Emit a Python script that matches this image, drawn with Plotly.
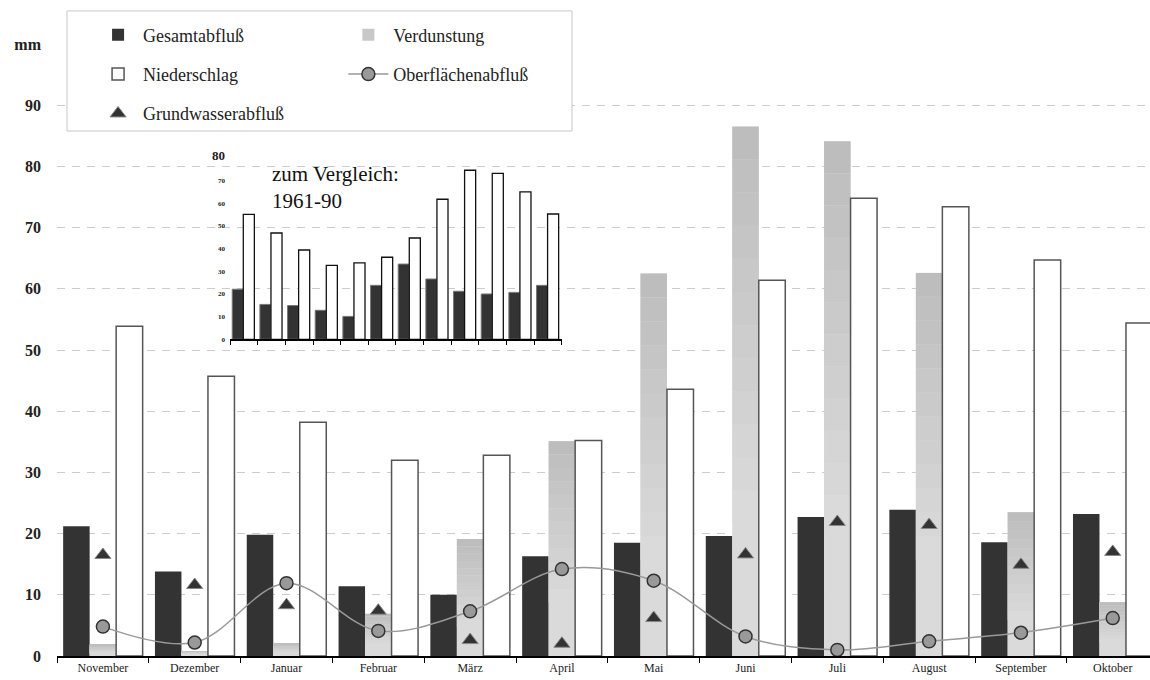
import plotly.graph_objects as go

# ---------------- data ----------------
months = ["November", "Dezember", "Januar", "Februar", "März", "April",
          "Mai", "Juni", "Juli", "August", "September", "Oktober"]
gesamtabfluss = [21.2, 13.8, 19.8, 11.4, 10.0, 16.3, 18.5, 19.6, 22.7, 23.9, 18.6, 23.2]
verdunstung = [1.8, 0.8, 2.0, 6.9, 19.1, 35.1, 62.5, 86.5, 84.1, 62.6, 23.5, 8.8]
niederschlag = [53.9, 45.7, 38.2, 32.0, 32.8, 35.2, 43.6, 61.4, 74.8, 73.4, 64.7, 54.4]
oberflaechenabfluss = [4.8, 2.2, 11.9, 4.1, 7.3, 14.2, 12.3, 3.2, 1.0, 2.4, 3.8, 6.2]
grundwasserabfluss = [16.5, 11.6, 8.3, 7.4, 2.6, 2.0, 6.2, 16.6, 21.9, 21.4, 14.9, 17.0]

# comparison 1961-90 (inset)
ref_gesamtabfluss = [22.1, 15.4, 14.9, 12.8, 10.1, 23.8, 33.2, 26.6, 21.2, 20.0, 20.7, 23.8]
ref_niederschlag = [55.1, 46.9, 39.4, 32.6, 33.7, 36.2, 44.7, 61.8, 74.6, 73.2, 65.1, 55.3]

y_tickvals = [0, 10, 20, 30, 40, 50, 60, 70, 80, 90, 100]
y_ticktext = ["0", "10", "20", "30", "40", "50", "60", "70", "80", "90", "mm"]
inset_tickvals = [0, 10, 20, 30, 40, 50, 60, 70, 80]
inset_ticktext = ["0", "10", "20", "30", "40", "50", "60", "70",
                  "<span style='font-size:13px'><b>80</b></span>"]

SERIF = "Liberation Serif"
fig = go.Figure()

# ---------------- main chart ----------------
fig.add_trace(go.Bar(
    x=months, y=gesamtabfluss, name="Gesamtabfluß", offsetgroup="g",
    marker=dict(color="#333333", line=dict(width=0)),
    legend="legend", legendgroup="g", legendrank=1))

# Verdunstung drawn as a vertical gradient (light base + darker upper segments)
fig.add_trace(go.Bar(
    x=months, y=verdunstung, name="Verdunstung", offsetgroup="v",
    marker=dict(color="#dadada", line=dict(width=0)),
    showlegend=False, legendgroup="v"))
N = 12
c_top, c_bot = 189, 218
for k in range(N):
    f0 = 0.75 * k / N
    f1 = 0.75 * (k + 1) / N
    c = round(c_top + (c_bot - c_top) * k / (N - 1))
    col = f"rgb({c},{c},{c})"
    fig.add_trace(go.Bar(
        x=months, y=[v * (f1 - f0) for v in verdunstung],
        base=[v * (1 - f1) for v in verdunstung],
        name="Verdunstung", offsetgroup="v",
        marker=dict(color=col if k != 4 else "rgb(200,200,200)", line=dict(width=0)),
        showlegend=(k == 4), legend="legend2", legendgroup="v", legendrank=1))

fig.add_trace(go.Bar(
    x=months, y=niederschlag, name="Niederschlag", offsetgroup="n",
    marker=dict(color="white", line=dict(color="#555555", width=1.5)),
    legend="legend", legendgroup="n", legendrank=2))

fig.add_trace(go.Scatter(
    x=months, y=oberflaechenabfluss, name="Oberflächenabfluß",
    mode="lines+markers", line=dict(color="#999999", width=1.5, shape="spline", smoothing=1),
    marker=dict(symbol="circle", size=13, color="#999999", line=dict(color="#333333", width=1.5)),
    legend="legend2", legendgroup="o", legendrank=2))

fig.add_trace(go.Scatter(
    x=months, y=grundwasserabfluss, name="Grundwasserabfluß", mode="markers",
    marker=dict(symbol="triangle-up", size=14, color="#333333", line=dict(color="#888888", width=1)),
    legend="legend", legendgroup="gw", legendrank=3))

# ---------------- inset chart (1961-90) ----------------
fig.add_trace(go.Bar(
    x=months, y=ref_gesamtabfluss, xaxis="x2", yaxis="y2", width=0.4, offset=-0.42,
    marker=dict(color="#333333", line=dict(color="#777777", width=1)),
    showlegend=False, name="Gesamtabfluß 1961-90"))
fig.add_trace(go.Bar(
    x=months, y=ref_niederschlag, xaxis="x2", yaxis="y2", width=0.4, offset=-0.02,
    marker=dict(color="white", line=dict(color="#111111", width=1.3)),
    showlegend=False, name="Niederschlag 1961-90"))

legend_font = dict(family=SERIF, size=18, color="#222222")

fig.update_layout(
    width=1150, height=680,
    margin=dict(l=57, r=0, t=44, b=24),
    paper_bgcolor="white", plot_bgcolor="rgba(0,0,0,0)",
    barmode="group", bargap=0.134, bargroupgap=0,
    font=dict(family=SERIF, color="#222222"),
    xaxis=dict(type="category", range=[-0.5, 11.406], tickson="boundaries",
               ticks="outside", ticklen=5, tickcolor="#000000", tickwidth=1,
               showline=True, linecolor="#000000", linewidth=1.5,
               showgrid=False, tickfont=dict(family=SERIF, size=12, color="#222222")),
    yaxis=dict(range=[0, 100], tickvals=y_tickvals, ticktext=y_ticktext,
               showgrid=True, gridcolor="#cccccc", gridwidth=1, griddash="8px,7px",
               zeroline=False, showline=False, ticks="", ticklabelstandoff=15,
               tickfont=dict(family=SERIF, size=16, color="#222222", weight="bold")),
    xaxis2=dict(domain=[0.1583, 0.462], anchor="y2", type="category", range=[-0.5, 11.5],
                tickson="boundaries", ticks="outside", ticklen=4, tickcolor="#000000",
                showline=True, linecolor="#000000", linewidth=1.5,
                showgrid=False, showticklabels=False),
    yaxis2=dict(domain=[0.5175, 0.8137], anchor="x2", range=[0, 80],
                tickvals=inset_tickvals, ticktext=inset_ticktext,
                showgrid=False, zeroline=False, showline=False, ticks="",
                ticklabelstandoff=4,
                tickfont=dict(family=SERIF, size=7, color="#222222", weight="bold")),
    legend=dict(x=0.033, y=1.045, xanchor="left", yanchor="top",
                orientation="v", bgcolor="rgba(0,0,0,0)", borderwidth=0,
                font=legend_font, tracegroupgap=13, itemwidth=40),
    legend2=dict(x=0.262, y=1.045, xanchor="left", yanchor="top",
                 orientation="v", bgcolor="rgba(0,0,0,0)", borderwidth=0,
                 font=legend_font, tracegroupgap=13, itemwidth=40),
    shapes=[dict(type="rect", xref="paper", yref="paper",
                 x0=0.00915, x1=0.4712, y0=0.8578, y1=1.054,
                 fillcolor="white", line=dict(color="#c8c8c8", width=1), layer="above")],
    annotations=[dict(text="zum Vergleich:<br>1961-90", xref="paper", yref="paper",
                      x=0.1949, y=0.8105, xanchor="left", yanchor="top", align="left",
                      showarrow=False, font=dict(family=SERIF, size=21, color="#111111"))],
)

fig.write_html("out.html", config={"displayModeBar": False},
               post_script="document.body.style.margin='0px';")
